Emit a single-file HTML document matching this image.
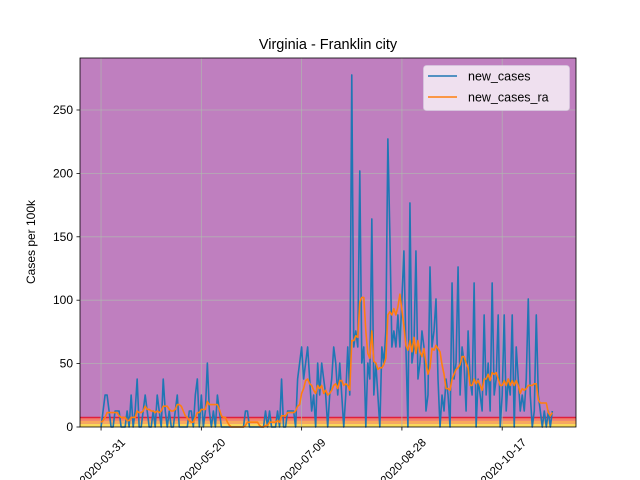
<!DOCTYPE html>
<html><head><meta charset="utf-8"><style>
body{margin:0;background:#fff;}
svg{display:block;font-family:"Liberation Sans","DejaVu Sans",sans-serif;}
</style></head><body>
<svg id="chart" width="640" height="480">
<text x="328" y="49" font-size="14.5" text-anchor="middle">Virginia - Franklin city</text>
<text transform="translate(35,242) rotate(-90)" font-size="12" text-anchor="middle">Cases per 100k</text>
</svg>
<script>
const per100k = 12.62;
const startDate = "2020-03-31";
const xTickLabels = ["2020-03-31","2020-05-20","2020-07-09","2020-08-28","2020-10-17"];
const xTickDays = [0,50,100,150,200];
const yTicks = [0,50,100,150,200,250];
const newCases = [0,1,2,2,1,0,0,1,1,1,0,0,0,1,0,2,0,1,3,0,0,1,2,1,0,0,1,0,2,1,0,3,1,0,1,0,0,1,2,0,0,0,0,0,1,1,0,2,3,0,2,0,1,4,1,0,1,0,2,1,0,0,0,0,0,0,0,0,0,0,0,0,1,1,0,0,0,0,0,0,0,0,1,0,1,0,0,0,1,0,3,0,0,1,1,1,1,0,3,4,5,3,4,5,3,1,2,0,4,2,4,3,2,0,2,3,5,4,2,4,2,0,2,5,2,22,5,6,5,16,4,5,0,4,3,13,2,4,2,0,5,4,6,18,12,5,6,5,7,5,8,11,5,0,14,4,5,11,3,4,6,5,1,2,10,5,6,8,3,0,2,1,3,2,0,9,3,4,10,2,5,4,1,6,3,2,9,0,3,2,1,7,2,4,1,9,2,3,7,0,2,7,1,3,2,7,0,5,3,1,2,1,3,8,2,0,1,7,2,1,0,1,0,1,0,1];
const newCasesRa = [0.3,0.4,0.6,0.9,0.9,0.9,0.9,0.9,0.9,0.7,0.6,0.6,0.6,0.4,0.4,0.6,0.6,0.6,1.0,0.9,0.9,1.0,1.3,1.1,1.1,1.0,1.0,0.9,1.0,0.9,1.0,1.3,1.3,1.3,1.1,1.0,1.0,1.1,1.4,1.4,1.3,1.0,0.7,0.6,0.4,0.3,0.3,0.6,0.9,0.9,1.1,1.1,1.1,1.6,1.4,1.4,1.4,1.4,1.4,1.1,0.7,0.6,0.6,0.3,0.1,0,0,0,0,0,0,0,0.1,0.3,0.3,0.3,0.3,0.3,0.3,0.1,0,0,0.1,0.1,0.3,0.3,0.3,0.3,0.4,0.3,0.7,0.7,0.7,0.9,0.9,0.9,0.9,1.0,1.3,1.4,2.1,2.4,2.9,3.0,2.7,2.6,2.3,2.1,2.6,2.4,2.6,2.1,2.3,2.0,2.1,2.3,2.6,2.7,2.4,2.9,2.9,2.6,2.7,2.6,2.3,5.4,5.4,5.7,5.6,7.8,8.1,8.1,6.0,4.6,4.3,6.0,4.1,4.0,3.6,3.7,3.7,3.9,4.3,7.0,7.2,7.0,7.4,7.0,7.5,8.3,7.3,6.3,5.1,4.8,5.4,4.7,5.6,4.6,5.4,4.7,4.4,4.9,4.0,3.3,3.7,4.9,4.8,5.1,4.9,4.7,3.9,3.3,2.4,2.4,2.3,3.0,3.3,3.6,3.7,3.9,4.4,4.4,4.0,3.7,2.6,2.6,3.0,2.7,2.9,2.6,2.3,3.0,3.0,3.3,2.9,3.4,3.3,3.4,3.0,2.6,2.6,2.9,2.6,3.0,2.6,2.9,2.6,2.9,2.6,2.1,2.4,2.3,2.4,2.6,2.6,2.6,2.7,2.7,1.7,1.5,1.5,1.5,1.5,0.9,0.7,0.9];
const bandEdges = [0,2.5,5,7.5];
const bandColors = ["#f9d85a","#f8a85c","#f27e6c"];

const L=80,R=576,T=58,B=427;
const xMin=-10.5,xMax=236.8,yMin=0,yMax=291;
const xs=d=>L+(d-xMin)/(xMax-xMin)*(R-L);
const ys=v=>B-(v-yMin)/(yMax-yMin)*(B-T);
const svg=document.getElementById('chart');
const NS='http://www.w3.org/2000/svg';
function mk(tag,attrs){const e=document.createElementNS(NS,tag);for(const k in attrs)e.setAttribute(k,attrs[k]);svg.appendChild(e);return e;}

const bg=mk('rect',{x:L,y:T,width:R-L,height:B-T,fill:'#bf7fbf'});


for(let i=0;i<bandColors.length;i++){
  const b=mk('rect',{x:L,y:ys(bandEdges[i+1]),width:R-L,height:ys(bandEdges[i])-ys(bandEdges[i+1]),fill:bandColors[i]});
  
  
}
const rl=mk('line',{x1:L,x2:R,y1:ys(bandEdges[3]),y2:ys(bandEdges[3]),stroke:'#e0203c','stroke-width':1.5});



yTicks.forEach(v=>{
  const y=ys(v);
  if(v>0){const g=mk('line',{x1:L,x2:R,y1:y,y2:y,stroke:'#b0b8b0','stroke-width':0.8,opacity:0.85});
  
  }
  mk('line',{x1:L-3.5,x2:L,y1:y,y2:y,stroke:'#000','stroke-width':0.8});
  const t=mk('text',{x:L-7,y:y+4,'font-size':12,'text-anchor':'end'});t.textContent=v;
  
  
});
xTickDays.forEach((d,i)=>{
  const x=xs(d);
  const g=mk('line',{x1:x,x2:x,y1:T,y2:B,stroke:'#b0b8b0','stroke-width':0.8,opacity:0.85});
  
  
  mk('line',{x1:x,x2:x,y1:B,y2:B+3.5,stroke:'#000','stroke-width':0.8});
  const t=mk('text',{transform:`translate(${x+4},${B+37}) rotate(-45)`,'font-size':11.5,'text-anchor':'middle'});t.textContent=xTickLabels[i];
  
  
});

const p1=mk('polyline',{points:newCases.map((c,i)=>xs(i)+','+ys(c*per100k)).join(' '),fill:'none',stroke:'#1f77b4','stroke-width':1.6,'stroke-linejoin':'round'});


const p2=mk('polyline',{points:newCasesRa.map((c,i)=>xs(i)+','+ys(c*per100k)).join(' '),fill:'none',stroke:'#ff7f0e','stroke-width':1.6,'stroke-linejoin':'round'});



const fr=mk('rect',{x:L,y:T,width:R-L,height:B-T,fill:'none',stroke:'#000','stroke-width':0.8});



const lg=mk('rect',{x:423.5,y:65.5,width:146,height:45,rx:3,fill:'#f2e6f2',stroke:'#d8cce0','stroke-width':0.8,opacity:0.95});


[['new_cases','#1f77b4',76],['new_cases_ra','#ff7f0e',97]].forEach(([n,c,y])=>{
  mk('line',{x1:428,x2:457,y1:y,y2:y,stroke:c,'stroke-width':1.6});
  const t=mk('text',{x:468,y:y+4.5,'font-size':12.5});t.textContent=n;
  
  
});
</script>
</body></html>
